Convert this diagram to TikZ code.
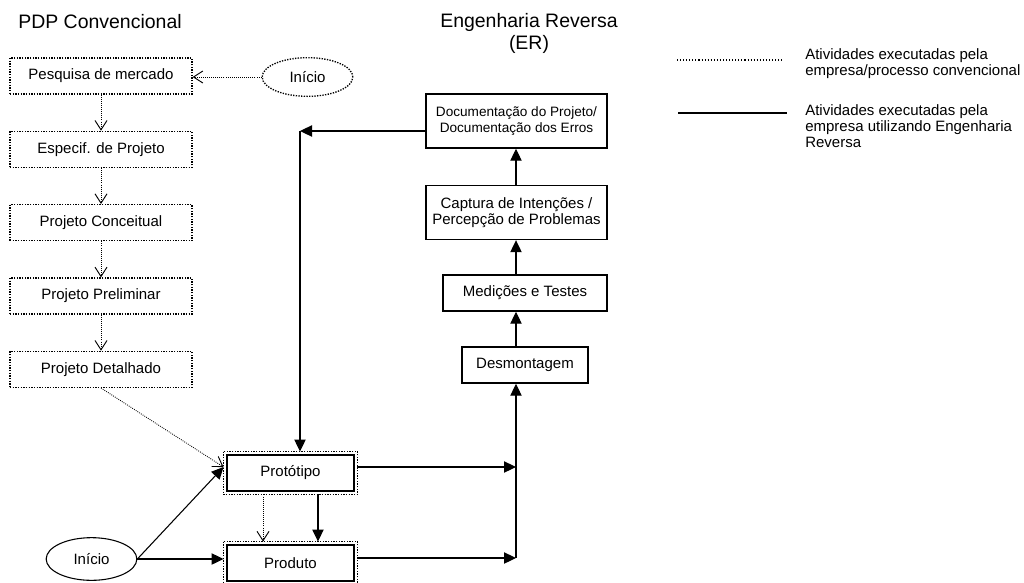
\documentclass[tikz,border=0pt]{standalone}
\usepackage{fontspec}
\setmainfont{Liberation Sans}
\usetikzlibrary{positioning, arrows.meta, shapes.geometric}
\tikzset{
  pdp/.style={draw, line width=1pt, dash pattern=on 1pt off 1pt, inner sep=0pt,
              minimum width=136.5pt, minimum height=27pt,
              font=\fontsize{11.25}{12.5}\selectfont},
  er/.style={draw, line width=1.1pt, align=center, inner sep=0pt,
             minimum height=27pt, font=\fontsize{11.25}{12}\selectfont},
  dbl/.style={er, outer sep=2.6pt, minimum width=95.25pt},
  ini/.style={ellipse, draw, inner sep=0pt, minimum width=68pt,
              font=\fontsize{11.25}{12.5}\selectfont},
  ttl/.style={align=center, font=\fontsize{14.6}{17}\selectfont},
  leg/.style={align=left, anchor=west, inner sep=0pt,
              font=\fontsize{11.25}{12}\selectfont},
  frm/.style={line width=1pt, dash pattern=on 1pt off 1pt},
  pflow/.style={-{Straight Barb[length=7pt, width=9pt, line width=0.7pt]},
                line width=0.65pt, dash pattern=on 0.65pt off 0.9pt},
  pline/.style={line width=0.8pt, dash pattern=on 0.8pt off 1.5pt},
  eflow/.style={-{Triangle[length=9pt, width=8.5pt]}, line width=0.8pt},
  eline/.style={line width=0.8pt}
}
\begin{document}
\begin{tikzpicture}[x=0.75pt, y=-0.75pt, node distance=27pt]
  \useasboundingbox (0,0) rectangle (1024,582);
  % titulos
  \node[ttl] (tpdp) at (100,22) {PDP Convencional};
  \node[ttl] (ter) at (529,33.5) {Engenharia Reversa\\(ER)};
  % PDP convencional
  \node[pdp] (pesq) at (101,76) {Pesquisa de mercado};
  \node[pdp, below=of pesq] (espec) {Especif. de Projeto};
  \node[pdp, below=of espec] (conc) {Projeto Conceitual};
  \node[pdp, below=of conc] (prel) {Projeto Preliminar};
  \node[pdp, below=of prel] (det) {Projeto Detalhado};
  \node[ini, frm, minimum height=29pt] (ini1) at (307.5,77) {Início};
  % engenharia reversa
  \node[er, minimum width=135.75pt, minimum height=40.5pt,
        font=\fontsize{10.2}{12}\selectfont] (doc) at (516.5,121)
    {Documentação do Projeto/\\Documentação dos Erros};
  \node[er, minimum width=135.75pt, minimum height=40.5pt, below=of doc] (capt)
    {Captura de Intenções /\\Percepção de Problemas};
  \node[er, minimum width=123pt] (med) at (525,293) {Medições e Testes};
  \node[er, minimum width=94.5pt] (desm) at (525,365) {Desmontagem};
  \node[dbl] (proto) at (290.5,473) {Protótipo};
  \node[dbl] (prod) at (290.5,563) {Produto};
  \draw[frm] (proto.north west) rectangle (proto.south east);
  \draw[frm] (prod.north west) rectangle (prod.south east);
  \node[ini, line width=0.8pt, minimum height=32pt] (ini2) at (91.5,559) {Início};
  \coordinate (canto) at (300,131);
  \coordinate (jt) at (516,467);
  \coordinate (jb) at (516,558);
  % legenda
  \coordinate (l1a) at (677,60); \coordinate (l1b) at (783,60);
  \coordinate (l2a) at (678,113); \coordinate (l2b) at (787,113);
  \draw[pline] (l1a) -- (l1b);
  \draw[eline, line width=1pt] (l2a) -- (l2b);
  \node[leg] (leg1) at (805,64) {Atividades executadas pela\\empresa/processo convencional};
  \node[leg] (leg2) at (805,126) {Atividades executadas pela\\empresa utilizando Engenharia\\Reversa};
  % setas PDP
  \draw[pflow] (ini1) -- (ini1 -| pesq.east);
  \foreach \a/\b in {pesq/espec, espec/conc, conc/prel, prel/det}
    \draw[pflow] (\a) -- (\b);
  \draw[pflow] (det.south) -- (proto.west |- jt);
  \draw[pflow] ([xshift=-20.6pt]proto.south) -- ([xshift=-20.6pt]prod.north);
  % setas ER
  \draw[eflow] (ini2.east) -- (proto.west |- jt);
  \draw[eflow] (ini2) -- (ini2 -| prod.west);
  \draw[eflow] ([xshift=20.6pt]proto.south) -- ([xshift=20.6pt]prod.north);
  \draw[eflow] (proto.east |- jt) -- (jt);
  \draw[eflow] (prod.east |- jb) -- (jb);
  \draw[eline] (jb) -- (jt);
  \draw[eflow] (jt) -- (jt |- desm.south);
  \draw[eflow] (desm.north -| jt) -- (med.south -| jt);
  \draw[eflow] (med.north -| jt) -- (capt.south -| jt);
  \draw[eflow] (capt.north -| jt) -- (doc.south -| jt);
  \draw[eflow] (doc.west |- canto) -- (canto);
  \draw[eflow] (canto) -- (canto |- proto.north);
\end{tikzpicture}
\end{document}
